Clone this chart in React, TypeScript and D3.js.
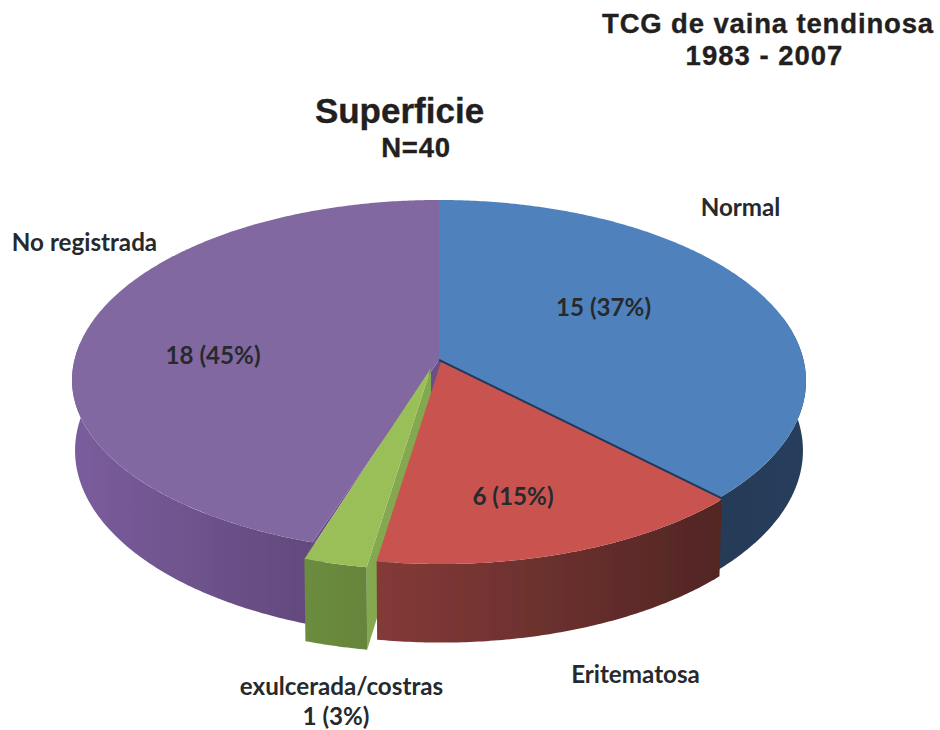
import React from "react";
import * as d3 from "d3";

const categories = ["Normal", "Eritematosa", "exulcerada/costras", "No registrada"];
const values = [15, 6, 1, 18];
const topColors = ["#4f82bc", "#c9524f", "#9bbf59", "#8267a1"];
const wallLeft = ["#253a58", "#843a38", "#6c8c3f", "#7a5c9c"];
const wallRight = ["#263e5c", "#522624", "#66853a", "#62497c"];
const pullX = [0, 2, -8, 0];
const pullY = [0, 2, 8, 0];
const extraDepth = [0, 4, 8, 0];
const squashFront = [1, 1, 1, 0.955];
const valueLabels = ["15 (37%)", "6 (15%)", "", "18 (45%)"];

const W = 940, H = 730;
const CX = 439, TOP_Y = 360, BOT_Y = 429;
const TOP_A = 364.5, TOP_B = 178.6, BOT_A = 361.5, BOT_B = 183.5, K = 0.116;

type P = [number, number];
const proj = (t: number, i: number, bottom: boolean): P => {
  const u = Math.sin(t), v = -Math.cos(t), d = 1 - K * v;
  if (bottom) return [CX + pullX[i] + (BOT_A * u) / d, BOT_Y + pullY[i] + extraDepth[i] + (BOT_B * v) / d];
  const y = (TOP_B * v) / d;
  return [CX + pullX[i] + (TOP_A * u) / d, TOP_Y + pullY[i] + (v > 0 ? y * squashFront[i] : y)];
};
const arcPts = (a: number, b: number, i: number, bottom: boolean): P[] => {
  const n = Math.max(2, Math.ceil((b - a) / 0.01));
  return d3.range(n + 1).map((k) => proj(a + ((b - a) * k) / n, i, bottom));
};
const line = d3.line<P>().x((d) => d[0]).y((d) => d[1]);
const closed = (pts: P[]) => (line(pts) || "") + "Z";

const FONT_B = "'Liberation Sans', Arial, sans-serif";
const FONT_L = "Lato, sans-serif";
const INK = "#262a2e";

export default function App() {
  const arcs = d3.pie<number>().sort(null).startAngle(0).endAngle(2 * Math.PI)(values);
  const [blue, red, green, purple] = arcs;

  const apex = (i: number): P => [CX + pullX[i], TOP_Y + pullY[i]];
  const apexB = (i: number): P => [CX + pullX[i], BOT_Y + pullY[i] + extraDepth[i]];
  const wall = (a: number, b: number, i: number) =>
    closed([...arcPts(a, b, i, false), ...arcPts(a, b, i, true).reverse()]);
  const top = (a: number, b: number, i: number) => closed([apex(i), ...arcPts(a, b, i, false)]);

  const gX = (i: number, a: number, b: number) => {
    const l = proj(a, i, true)[0], r = proj(b, i, true)[0];
    return [Math.min(l, r), Math.max(l, r)];
  };
  const grads: [number, number, number][] = [
    [0, blue.startAngle + Math.PI / 2, blue.endAngle],
    [1, red.startAngle, red.endAngle],
    [2, green.startAngle, green.endAngle],
    [3, purple.startAngle, 1.5 * Math.PI],
  ];

  const gc = proj(green.startAngle, 2, false);
  const gcb = proj(green.startAngle, 2, true);
  const gl = proj(green.endAngle, 2, false);
  const pc = proj(purple.startAngle, 3, false);
  const redCorner = proj(red.startAngle, 1, false);

  return (
    <svg width={W} height={H} style={{ position: "absolute", left: 0, top: 0, background: "#fff" }}>
      <defs>
        <filter id="soft" x="-5%" y="-5%" width="110%" height="110%">
          <feGaussianBlur stdDeviation="0.5" />
        </filter>
        {grads.map(([i, a, b]) => {
          const [x1, x2] = gX(i, a, b);
          return (
            <linearGradient key={i} id={`w${i}`} gradientUnits="userSpaceOnUse" x1={x1} x2={x2} y1={0} y2={0}>
              <stop offset="0" stopColor={wallLeft[i]} />
              <stop offset="1" stopColor={wallRight[i]} />
            </linearGradient>
          );
        })}
      </defs>
      <g filter="url(#soft)">
        {/* outer walls */}
        <path d={wall(Math.PI / 2 - 0.25, blue.endAngle, 0)} fill="url(#w0)" />
        <path d={wall(purple.startAngle - 0.03, 1.5 * Math.PI + 0.1, 3)} fill="url(#w3)" />
        {/* purple cut face seen through the pulled slice */}
        <path d={closed([apex(3), pc, gl, apex(2), apexB(2), proj(red.startAngle, 0, false)])} fill="#6a5088" />
        {/* green cut face */}
        <path d={closed([apex(2), gc, gcb, apexB(2)])} fill="#84a84f" />
        {/* tops of blue and purple */}
        <path d={top(blue.startAngle, blue.endAngle, 0)} fill={topColors[0]} />
        <path d={top(purple.startAngle, purple.endAngle, 3)} fill={topColors[3]} />
        {/* dark cut edge of the blue slice */}
        <path d={line([apex(0), [redCorner[0], redCorner[1] - 1]]) || ""} stroke="#23395a" strokeWidth={2.4} fill="none" />
        {/* red */}
        <path d={wall(red.startAngle, red.endAngle, 1)} fill="url(#w1)" />
        <path d={top(red.startAngle, red.endAngle, 1)} fill={topColors[1]} />
        {/* green */}
        <path d={wall(green.startAngle, green.endAngle, 2)} fill="url(#w2)" />
        <path d={top(green.startAngle, green.endAngle, 2)} fill={topColors[2]} />
      </g>

      <g fontFamily={FONT_B} fontWeight={700} fill="#231f20" stroke="#231f20" strokeWidth={0.35} textAnchor="middle">
        <text x={768} y={32.5} fontSize={27.5} letterSpacing={0.85}>TCG de vaina tendinosa</text>
        <text x={764.5} y={64.5} fontSize={27.5} letterSpacing={1}>1983 - 2007</text>
        <text x={399.5} y={123} fontSize={35}>Superficie</text>
        <text x={416} y={157} fontSize={27.5} letterSpacing={0.8}>N=40</text>
      </g>
      <g fontFamily={FONT_L} fontWeight={700} fill={INK} fontSize={24.2} textAnchor="middle">
        <text x={740.5} y={215.5}>{categories[0]}</text>
        <text x={84.5} y={251}>{categories[3]}</text>
        <text x={635.5} y={683}>{categories[1]}</text>
        <text x={341.5} y={695}>{categories[2]}</text>
        <text x={336} y={725}>1 (3%)</text>
        <text x={603.5} y={316}>{valueLabels[0]}</text>
        <text x={513} y={505}>{valueLabels[1]}</text>
        <text x={213} y={364}>{valueLabels[3]}</text>
      </g>
    </svg>
  );
}
